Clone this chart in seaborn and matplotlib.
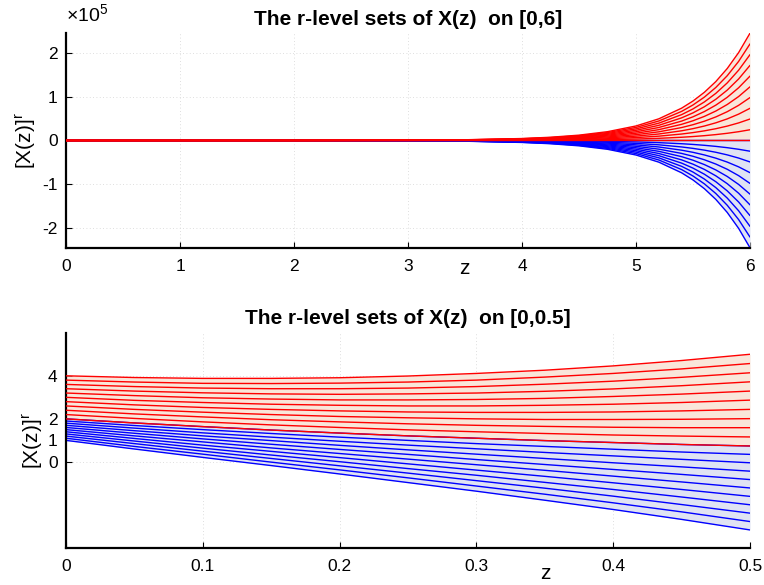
import matplotlib
matplotlib.use("Agg")
import matplotlib.pyplot as plt
import seaborn as sns
import pandas as pd

# ---------------- data ----------------
levels = [0.0, 0.1, 0.2, 0.3, 0.4, 0.5, 0.6, 0.7, 0.8, 0.9, 1.0]

# top panel: z on [0, 6]
top_z = [0, 2, 3, 3.5, 4, 4.25, 4.5, 4.75, 5, 5.2, 5.4, 5.5, 5.6, 5.7, 5.8, 5.9, 6]
top_upper = [
    [4.0, 82, 605, 1645, 4471, 7372, 12155, 20040, 33040, 49289, 73531, 89811, 109696, 133983, 163647, 199879, 244132],
    [3.8, 74, 545, 1480, 4024, 6635, 10939, 18036, 29736, 44360, 66178, 80830, 98726, 120584, 147282, 179891, 219719],
    [3.6, 66, 484, 1316, 3577, 5898, 9724, 16032, 26432, 39432, 58825, 71849, 87757, 107186, 130917, 159903, 195306],
    [3.4, 57, 424, 1151, 3130, 5161, 8508, 14028, 23128, 34503, 51472, 62868, 76787, 93788, 114553, 139915, 170893],
    [3.2, 49, 363, 987, 2683, 4423, 7293, 12024, 19824, 29574, 44119, 53887, 65817, 80390, 98188, 119927, 146479],
    [3.0, 41, 303, 822, 2236, 3686, 6077, 10020, 16520, 24645, 36766, 44906, 54848, 66991, 81823, 99939, 122066],
    [2.8, 33, 242, 658, 1789, 2949, 4862, 8016, 13216, 19716, 29412, 35924, 43878, 53593, 65459, 79951, 97653],
    [2.6, 25, 182, 493, 1341, 2212, 3646, 6012, 9912, 14787, 22059, 26943, 32909, 40195, 49094, 59964, 73240],
    [2.4, 16, 121, 329, 894, 1474, 2431, 4008, 6608, 9858, 14706, 17962, 21939, 26797, 32729, 39976, 48826],
    [2.2, 8, 61, 164, 447, 737, 1215, 2004, 3304, 4929, 7353, 8981, 10970, 13398, 16365, 19988, 24413],
    [2.0, 0, 0, 0, 0, 0, 0, 0, 0, 0, 0, 0, 0, 0, 0, 0, 0],
]
top_lower = [
    [1.0, -82, -605, -1645, -4471, -7372, -12155, -20040, -33040, -49289, -73531, -89811, -109696, -133983, -163647, -199879, -244132],
    [1.1, -74, -545, -1480, -4024, -6635, -10939, -18036, -29736, -44360, -66178, -80830, -98726, -120584, -147282, -179891, -219719],
    [1.2, -65, -484, -1316, -3577, -5898, -9724, -16032, -26432, -39432, -58825, -71849, -87757, -107186, -130917, -159903, -195306],
    [1.3, -57, -424, -1151, -3130, -5161, -8508, -14028, -23128, -34503, -51472, -62868, -76787, -93788, -114553, -139915, -170893],
    [1.4, -49, -363, -987, -2683, -4423, -7293, -12024, -19824, -29574, -44119, -53887, -65817, -80390, -98188, -119927, -146479],
    [1.5, -41, -303, -822, -2236, -3686, -6077, -10020, -16520, -24645, -36766, -44906, -54848, -66991, -81823, -99939, -122066],
    [1.6, -33, -242, -658, -1789, -2949, -4862, -8016, -13216, -19716, -29412, -35924, -43878, -53593, -65459, -79951, -97653],
    [1.7, -25, -182, -493, -1341, -2212, -3646, -6012, -9912, -14787, -22059, -26943, -32909, -40195, -49094, -59964, -73240],
    [1.8, -16, -121, -329, -894, -1474, -2431, -4008, -6608, -9858, -14706, -17962, -21939, -26797, -32729, -39976, -48826],
    [1.9, -8, -61, -164, -447, -737, -1215, -2004, -3304, -4929, -7353, -8981, -10970, -13398, -16365, -19988, -24413],
    [2.0, 0, 0, 0, 0, 0, 0, 0, 0, 0, 0, 0, 0, 0, 0, 0, 0],
]

# bottom panel: z on [0, 0.5]
bot_z = [0, 0.05, 0.1, 0.15, 0.2, 0.25, 0.3, 0.35, 0.4, 0.45, 0.5]
bot_upper = [
    [4.00, 3.92, 3.88, 3.88, 3.91, 3.99, 4.11, 4.26, 4.46, 4.71, 5.00],
    [3.80, 3.71, 3.65, 3.64, 3.66, 3.71, 3.80, 3.94, 4.11, 4.32, 4.57],
    [3.60, 3.50, 3.43, 3.40, 3.40, 3.43, 3.50, 3.61, 3.75, 3.93, 4.14],
    [3.40, 3.29, 3.21, 3.16, 3.14, 3.16, 3.20, 3.28, 3.39, 3.54, 3.72],
    [3.20, 3.08, 2.98, 2.92, 2.88, 2.88, 2.90, 2.95, 3.04, 3.15, 3.29],
    [3.00, 2.86, 2.76, 2.68, 2.63, 2.60, 2.60, 2.63, 2.68, 2.76, 2.87],
    [2.80, 2.65, 2.53, 2.44, 2.37, 2.32, 2.30, 2.30, 2.32, 2.37, 2.44],
    [2.60, 2.44, 2.31, 2.20, 2.11, 2.05, 2.00, 1.97, 1.97, 1.98, 2.01],
    [2.40, 2.23, 2.09, 1.96, 1.86, 1.77, 1.70, 1.65, 1.61, 1.59, 1.59],
    [2.20, 2.02, 1.86, 1.72, 1.60, 1.49, 1.40, 1.32, 1.25, 1.20, 1.16],
    [2.00, 1.81, 1.64, 1.48, 1.34, 1.21, 1.10, 0.99, 0.90, 0.81, 0.74],
]
bot_lower = [
    [1.00, 0.60, 0.21, -0.17, -0.56, -0.96, -1.36, -1.78, -2.21, -2.67, -3.16],
    [1.10, 0.72, 0.36, -0.01, -0.37, -0.74, -1.12, -1.50, -1.90, -2.32, -2.77],
    [1.20, 0.85, 0.50, 0.16, -0.18, -0.52, -0.87, -1.22, -1.59, -1.98, -2.38],
    [1.30, 0.97, 0.64, 0.32, 0.01, -0.31, -0.62, -0.95, -1.28, -1.63, -1.99],
    [1.40, 1.09, 0.78, 0.49, 0.20, -0.09, -0.38, -0.67, -0.97, -1.28, -1.60],
    [1.50, 1.21, 0.93, 0.65, 0.39, 0.13, -0.13, -0.39, -0.66, -0.93, -1.21],
    [1.60, 1.33, 1.07, 0.82, 0.58, 0.35, 0.11, -0.12, -0.35, -0.58, -0.82],
    [1.70, 1.45, 1.21, 0.99, 0.77, 0.56, 0.36, 0.16, -0.04, -0.23, -0.43],
    [1.80, 1.57, 1.35, 1.15, 0.96, 0.78, 0.61, 0.44, 0.28, 0.12, -0.04],
    [1.90, 1.69, 1.50, 1.32, 1.15, 1.00, 0.85, 0.72, 0.59, 0.46, 0.35],
    [2.00, 1.81, 1.64, 1.48, 1.34, 1.21, 1.10, 0.99, 0.90, 0.81, 0.74],
]

top_xticks = [0, 1, 2, 3, 4, 5, 6]
top_yticks = [-2e5, -1e5, 0, 1e5, 2e5]
top_yticklabels = ["-2", "-1", "0", "1", "2"]
top_offset = "$\\times\\mathregular{10^5}$"
bot_xticks = [0, 0.1, 0.2, 0.3, 0.4, 0.5]
bot_xticklabels = ["0", "0.1", "0.2", "0.3", "0.4", "0.5"]
bot_yticks = [0, 1, 2, 4]
top_title = "The r-level sets of X(z)  on [0,6]"
bot_title = "The r-level sets of X(z)  on [0,0.5]"

# ---------------- style ----------------
sns.set_style("ticks")
plt.rcParams['font.family'] = ['Liberation Sans', 'DejaVu Sans']
plt.rcParams['mathtext.fontset'] = 'custom'
plt.rcParams['mathtext.rm'] = 'Liberation Sans'
plt.rcParams['axes.unicode_minus'] = False
plt.rcParams['text.color'] = 'black'
plt.rcParams['axes.labelcolor'] = 'black'

PINK = "#f9e6da"
LBLUE = "#e0e3f3"
TICK_FS = 12.5
LABEL_FS = 15
TITLE_FS = 15


def long_df(z, table):
    rows = []
    for lev, vals in zip(levels, table):
        for zz, v in zip(z, vals):
            rows.append({"z": zz, "value": v, "level": lev})
    return pd.DataFrame(rows)


def draw(ax, z, upper, lower):
    ax.fill_between(z, upper[-1], upper[0], color=PINK, lw=0, zorder=1)
    ax.fill_between(z, lower[0], lower[-1], color=LBLUE, lw=0, zorder=1)
    sns.lineplot(data=long_df(z, lower), x="z", y="value", units="level",
                 estimator=None, sort=False, color="blue", lw=1.0, ax=ax,
                 legend=False, zorder=2)
    sns.lineplot(data=long_df(z, upper), x="z", y="value", units="level",
                 estimator=None, sort=False, color="red", lw=1.0, ax=ax,
                 legend=False, zorder=3)


def style(ax):
    for s in ("top", "right"):
        ax.spines[s].set_visible(False)
    for s in ("left", "bottom"):
        ax.spines[s].set_linewidth(1.6)
        ax.spines[s].set_color("black")
    ax.tick_params(direction="in", length=4, width=0.8, labelsize=TICK_FS,
                   colors="black")
    ax.tick_params(axis="x", pad=8)
    ax.tick_params(axis="y", pad=6)
    ax.grid(True, ls=(0, (1, 3)), color="#d4d4d4", lw=0.6)


fig = plt.figure(figsize=(7.64, 5.85), dpi=100)
ax1 = fig.add_axes([0.0864, 0.5761, 0.8953, 0.3675])
ax2 = fig.add_axes([0.0864, 0.0632, 0.8953, 0.368])

# top panel
draw(ax1, top_z, top_upper, top_lower)
style(ax1)
ax1.set_xlim(0, 6)
ax1.set_ylim(-2.445e5, 2.445e5)
ax1.set_xticks(top_xticks)
ax1.set_yticks(top_yticks)
ax1.set_yticklabels(top_yticklabels)
ax1.text(0.0, 1.035, top_offset, transform=ax1.transAxes, fontsize=14,
         ha="left", va="bottom")
ax1.set_title(top_title, fontweight="bold", fontsize=TITLE_FS, pad=6)
ax1.set_xlabel("z", fontsize=LABEL_FS)
ax1.set_ylabel("[X(z)]$^{\\mathrm{r}}$", fontsize=LABEL_FS)
ax1.xaxis.set_label_coords(0.583, -0.05)
ax1.yaxis.set_label_coords(-0.041, 0.5)

# bottom panel
draw(ax2, bot_z, bot_upper, bot_lower)
style(ax2)
ax2.set_xlim(0, 0.5)
ax2.set_ylim(-4, 6)
ax2.set_xticks(bot_xticks)
ax2.set_xticklabels(bot_xticklabels)
ax2.set_yticks(bot_yticks)
ax2.set_title(bot_title, fontweight="bold", fontsize=TITLE_FS, pad=6)
ax2.set_xlabel("z", fontsize=LABEL_FS)
ax2.set_ylabel("[X(z)]$^{\\mathrm{r}}$", fontsize=LABEL_FS)
ax2.xaxis.set_label_coords(0.70, -0.075)
ax2.yaxis.set_label_coords(-0.030, 0.5)

fig.savefig("out.png", dpi=100)
